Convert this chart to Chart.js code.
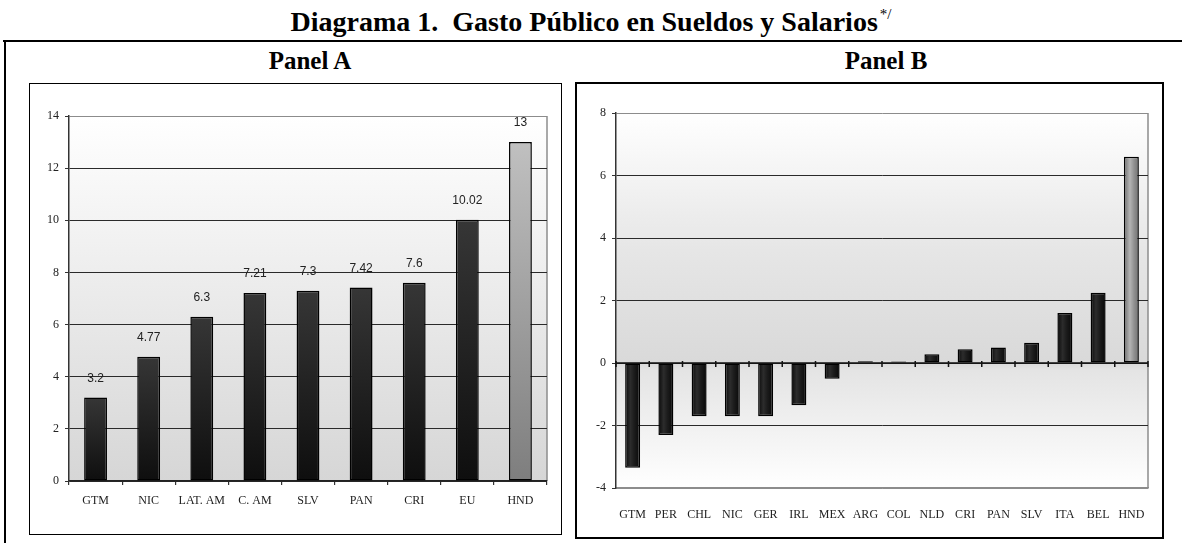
<!DOCTYPE html>
<html>
<head>
<meta charset="utf-8">
<script src="https://cdn.jsdelivr.net/npm/chart.js@4.4.1/dist/chart.umd.min.js"></script>
<style>
  html, body { margin: 0; padding: 0; background: #fff; }
  body { width: 1182px; height: 543px; position: relative; overflow: hidden; font-family: 'Liberation Serif', 'Times New Roman', serif; }
  .title { position: absolute; left: 0; top: 8px; width: 1182px; text-align: center; font-size: 28px; line-height: 28px; font-weight: bold; }
  .title .note { font-size: 15px; font-weight: normal; position: relative; top: -12px; margin-left: 2px; }
  .panel-title { position: absolute; top: 48px; font-size: 25px; line-height: 25px; font-weight: bold; text-align: center; width: 200px; }
  .rule-top { position: absolute; left: 3px; top: 40px; width: 1179px; height: 2px; background: #000; }
  .rule-left { position: absolute; left: 4px; top: 40px; width: 2px; height: 503px; background: #000; }
  .box { position: absolute; border: 2px solid #000; }
  #boxA { left: 29px; top: 83px; width: 531px; height: 450px; border-width: 1.5px; }
  #boxB { left: 575px; top: 82px; width: 585px; height: 453px; }
  .box canvas { display: block; }
</style>
</head>
<body>
<div class="title">Diagrama 1.&nbsp; Gasto Público en Sueldos y Salarios<span class="note">*/</span></div>
<div class="rule-top"></div>
<div class="rule-left"></div>
<div class="panel-title" style="left:210px;">Panel A</div>
<div class="panel-title" style="left:786px;">Panel B</div>
<div class="box" id="boxA"><canvas id="panel-a" width="531" height="450"></canvas></div>
<div class="box" id="boxB"><canvas id="panel-b" width="585" height="453"></canvas></div>

<script>
// Panel A: gasto en sueldos y salarios (% del PIB)
const panelACategories = ['GTM', 'NIC', 'LAT. AM', 'C. AM', 'SLV', 'PAN', 'CRI', 'EU', 'HND'];
const panelAValues = [3.2, 4.77, 6.3, 7.21, 7.3, 7.42, 7.6, 10.02, 13];
const panelATicks = [0, 2, 4, 6, 8, 10, 12, 14];

// Panel B
const panelBCategories = ['GTM', 'PER', 'CHL', 'NIC', 'GER', 'IRL', 'MEX', 'ARG', 'COL', 'NLD', 'CRI', 'PAN', 'SLV', 'ITA', 'BEL', 'HND'];
const panelBValues = [-3.35, -2.3, -1.7, -1.7, -1.7, -1.35, -0.5, 0.06, 0.05, 0.28, 0.44, 0.5, 0.65, 1.6, 2.25, 6.6];
const panelBTicks = [-4, -2, 0, 2, 4, 6, 8];

const highlighted = 'HND';

const serif = "'Liberation Serif', 'Times New Roman', serif";
const sans = "'Liberation Sans', Arial, sans-serif";

// fill the plot area with a gradient, and draw its gray right edge
const plotBackground = {
    id: 'plotBackground',
    beforeDraw(chart, args, opts) {
        const area = chart.chartArea;
        const ctx = chart.ctx;
        const g = ctx.createLinearGradient(0, area.top, 0, area.bottom);
        if (opts.mirror) {
            const z = (chart.scales.y.getPixelForValue(0) - area.top) / area.height;
            g.addColorStop(0, '#ffffff');
            g.addColorStop(z * 0.55, '#e6e6e6');
            g.addColorStop(z, '#d9d9d9');
            g.addColorStop(Math.min(1, z + 0.02), '#e4e4e4');
            g.addColorStop(1, '#ffffff');
        } else {
            g.addColorStop(0, '#ffffff');
            g.addColorStop(1, '#d6d6d6');
        }
        ctx.save();
        ctx.fillStyle = g;
        ctx.fillRect(area.left, area.top, area.width, area.height);
        ctx.strokeStyle = '#8c8c8c';
        ctx.lineWidth = 1.5;
        ctx.beginPath();
        ctx.moveTo(area.right, area.top);
        ctx.lineTo(area.right, area.bottom);
        ctx.stroke();
        ctx.restore();
    }
};

const valueLabels = {
    id: 'valueLabels',
    afterDatasetsDraw(chart) {
        const ctx = chart.ctx;
        const meta = chart.getDatasetMeta(0);
        ctx.save();
        ctx.font = '12px ' + sans;
        ctx.fillStyle = '#222';
        ctx.textAlign = 'center';
        ctx.textBaseline = 'middle';
        meta.data.forEach((bar, i) => {
            ctx.fillText(String(chart.data.datasets[0].data[i]), bar.x, bar.y - 19);
        });
        ctx.restore();
    }
};

// small tick marks across the zero line (Panel B)
const zeroTicks = {
    id: 'zeroTicks',
    afterDatasetsDraw(chart) {
        const x = chart.scales.x;
        const y0 = chart.scales.y.getPixelForValue(0);
        const n = chart.data.labels.length;
        const step = x.width / n;
        const ctx = chart.ctx;
        ctx.save();
        ctx.strokeStyle = '#111';
        ctx.lineWidth = 1.5;
        ctx.beginPath();
        ctx.moveTo(x.left, y0);
        ctx.lineTo(x.right, y0);
        for (let i = 0; i <= n; i++) {
            const px = x.left + i * step;
            ctx.moveTo(px, y0 - 2);
            ctx.lineTo(px, y0 + 4);
        }
        ctx.stroke();
        ctx.restore();
    }
};

function verticalBarFill(context) {
    const chart = context.chart;
    if (!chart.chartArea) return '#222';
    const y = chart.scales.y;
    const top = y.getPixelForValue(context.raw);
    const bottom = y.getPixelForValue(0);
    const g = chart.ctx.createLinearGradient(0, top, 0, bottom);
    if (chart.data.labels[context.dataIndex] === highlighted) {
        g.addColorStop(0, '#c0c0c0');
        g.addColorStop(1, '#7e7e7e');
    } else {
        g.addColorStop(0, '#363636');
        g.addColorStop(1, '#0e0e0e');
    }
    return g;
}

function horizontalBarFill(context) {
    const chart = context.chart;
    if (!chart.chartArea) return '#222';
    const x = chart.scales.x;
    const cx = x.getPixelForValue(context.dataIndex);
    const half = x.width / chart.data.labels.length * 0.45 / 2;
    const g = chart.ctx.createLinearGradient(cx - half, 0, cx + half, 0);
    if (chart.data.labels[context.dataIndex] === highlighted) {
        g.addColorStop(0, '#6c6c6c');
        g.addColorStop(0.4, '#b4b4b4');
        g.addColorStop(0.7, '#8e8e8e');
        g.addColorStop(1, '#707070');
    } else {
        g.addColorStop(0, '#0a0a0a');
        g.addColorStop(0.35, '#2c2c2c');
        g.addColorStop(0.6, '#1c1c1c');
        g.addColorStop(1, '#080808');
    }
    return g;
}

const panelACanvas = document.getElementById('panel-a');
if (panelACanvas) {
    new Chart(panelACanvas.getContext('2d'), {
        type: 'bar',
        data: {
            labels: panelACategories,
            datasets: [{
                data: panelAValues,
                backgroundColor: verticalBarFill,
                borderColor: '#000',
                borderWidth: 1.5,
                borderSkipped: false,
                categoryPercentage: 1,
                barPercentage: 0.43
            }]
        },
        options: {
            responsive: false,
            animation: false,
            events: [],
            layout: { padding: { top: 32, right: 14, left: 0, bottom: 0 } },
            plugins: {
                legend: { display: false },
                tooltip: { enabled: false },
                plotBackground: { mirror: false }
            },
            scales: {
                x: {
                    afterFit(scale) { scale.height = 53; },
                    grid: { offset: true, drawOnChartArea: false, drawTicks: true, tickLength: 4, color: '#333', lineWidth: 1.2 },
                    border: { color: '#222', width: 1.5 },
                    ticks: { padding: 9, color: '#222', font: { family: serif, size: 12 }, maxRotation: 0, autoSkip: false }
                },
                y: {
                    min: panelATicks[0],
                    max: panelATicks[panelATicks.length - 1],
                    afterFit(scale) { scale.width = 39; },
                    afterBuildTicks(scale) { scale.ticks = panelATicks.map(v => ({ value: v })); },
                    grid: {
                        color: c => c.tick && c.tick.value === 14 ? '#8c8c8c' : '#2a2a2a',
                        lineWidth: 1,
                        tickLength: 4,
                        tickColor: '#333'
                    },
                    border: { color: '#333', width: 1.5 },
                    ticks: { padding: 6, color: '#222', font: { family: serif, size: 12 } }
                }
            }
        },
        plugins: [plotBackground, valueLabels]
    });
} else {
    console.error('panel-a canvas not found');
}

const panelBCanvas = document.getElementById('panel-b');
if (panelBCanvas) {
    new Chart(panelBCanvas.getContext('2d'), {
        type: 'bar',
        data: {
            labels: panelBCategories,
            datasets: [{
                data: panelBValues,
                backgroundColor: horizontalBarFill,
                borderColor: '#000',
                borderWidth: 1.5,
                borderSkipped: false,
                categoryPercentage: 1,
                barPercentage: 0.45
            }]
        },
        options: {
            responsive: false,
            animation: false,
            events: [],
            layout: { padding: { top: 29, right: 14, left: 0, bottom: 0 } },
            plugins: {
                legend: { display: false },
                tooltip: { enabled: false },
                plotBackground: { mirror: true }
            },
            scales: {
                x: {
                    afterFit(scale) { scale.height = 49; },
                    grid: { display: false },
                    border: { color: '#8c8c8c', width: 1.5 },
                    ticks: { padding: 12, color: '#222', font: { family: serif, size: 12 }, maxRotation: 0, autoSkip: false }
                },
                y: {
                    min: panelBTicks[0],
                    max: panelBTicks[panelBTicks.length - 1],
                    afterFit(scale) { scale.width = 39; },
                    afterBuildTicks(scale) { scale.ticks = panelBTicks.map(v => ({ value: v })); },
                    grid: {
                        color: c => c.tick && (c.tick.value === 8 || c.tick.value === -4) ? '#8c8c8c' : '#2a2a2a',
                        lineWidth: 1,
                        tickLength: 4,
                        tickColor: '#333'
                    },
                    border: { color: '#333', width: 1.5 },
                    ticks: { padding: 6, color: '#222', font: { family: serif, size: 12 } }
                }
            }
        },
        plugins: [plotBackground, zeroTicks]
    });
} else {
    console.error('panel-b canvas not found');
}
</script>
</body>
</html>
